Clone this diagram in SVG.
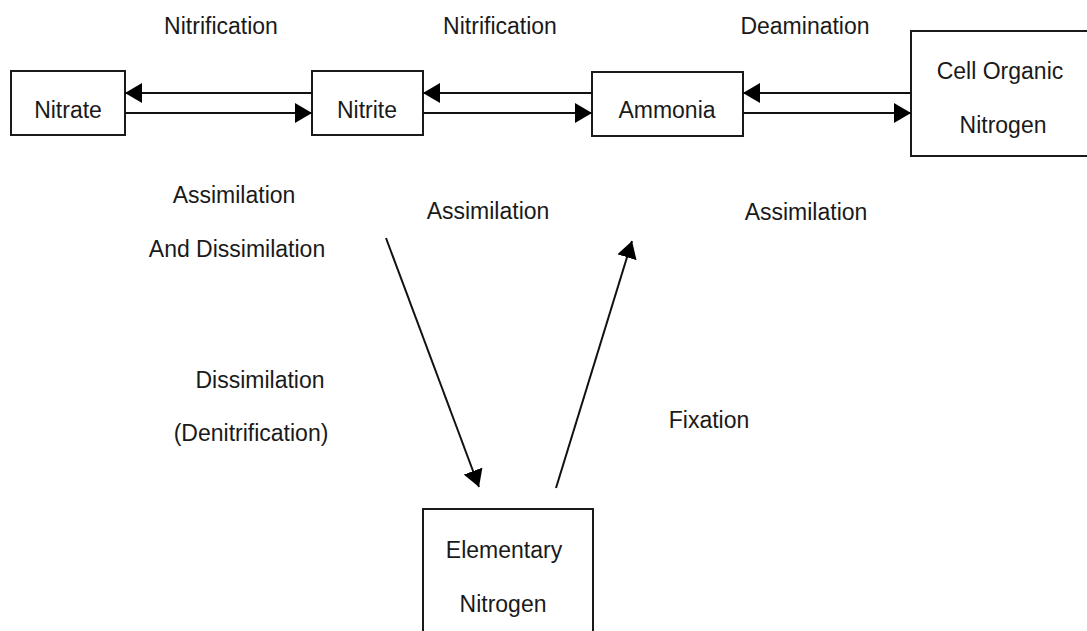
<svg xmlns="http://www.w3.org/2000/svg" width="1087" height="631" viewBox="0 0 1087 631">
<style>
text{font-family:"Liberation Sans",Arial,sans-serif;font-size:23px;fill:#1a1a1a;text-anchor:middle}
.box{fill:#fff;stroke:#1a1a1a;stroke-width:2}
.ln{stroke:#111;stroke-width:2;fill:none;marker-end:url(#ah)}
</style>
<defs>
<marker id="ah" markerUnits="userSpaceOnUse" markerWidth="18" markerHeight="20" refX="17" refY="10" orient="auto">
<path d="M0,0 L17,10 L0,20 z" fill="#000"/>
</marker>
</defs>
<rect width="1087" height="631" fill="#fff"/>
<g id="labels">
<text x="221" y="34">Nitrification</text>
<text x="500" y="34">Nitrification</text>
<text x="805" y="34">Deamination</text>
<text x="234" y="203">Assimilation</text>
<text x="237" y="257">And Dissimilation</text>
<text x="488" y="219">Assimilation</text>
<text x="806" y="220">Assimilation</text>
<text x="260" y="388">Dissimilation</text>
<text x="251" y="441">(Denitrification)</text>
<text x="709" y="428">Fixation</text>
</g>
<g id="nitrate"><rect class="box" x="11" y="71" width="114" height="64"/><text x="68" y="118">Nitrate</text></g>
<g id="nitrite"><rect class="box" x="312" y="71" width="111" height="64"/><text x="367" y="118">Nitrite</text></g>
<g id="ammonia"><rect class="box" x="592" y="72" width="151" height="64"/><text x="667" y="118">Ammonia</text></g>
<g id="cell"><rect class="box" x="911" y="31" width="190" height="125"/><text x="1000" y="79">Cell Organic</text><text x="1003" y="133">Nitrogen</text></g>
<g id="elementary"><rect class="box" x="423" y="509" width="170" height="140"/><text x="504" y="558">Elementary</text><text x="503" y="612">Nitrogen</text></g>
<g id="connectors">
<line class="ln" x1="312" y1="93" x2="125" y2="93"/>
<line class="ln" x1="125" y1="113" x2="312" y2="113"/>
<line class="ln" x1="592" y1="93" x2="423" y2="93"/>
<line class="ln" x1="423" y1="113" x2="592" y2="113"/>
<line class="ln" x1="911" y1="93" x2="743" y2="93"/>
<line class="ln" x1="743" y1="113" x2="911" y2="113"/>
<line class="ln" x1="386" y1="238" x2="479" y2="487"/>
<line class="ln" x1="556" y1="488" x2="632" y2="241"/>
</g>
</svg>
